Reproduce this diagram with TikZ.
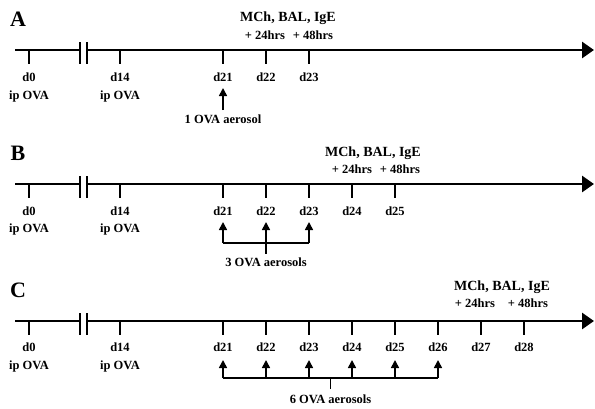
\documentclass[tikz,border=0pt]{standalone}
\usepackage{fontspec}
\setmainfont{Liberation Serif}
\usepackage{tikz}
\usetikzlibrary{arrows.meta, positioning}

\tikzset{
  axisline/.style={line width=2.8pt},
  daytick/.style={line width=2.8pt},
  brkbar/.style={line width=2.8pt},
  timeline/.style={axisline, -{Triangle[length=12pt,width=16pt]}},
  daylabel/.style={inner sep=0pt, font=\bfseries\fontsize{12.5}{14}\selectfont},
  readout/.style={inner sep=0pt, font=\bfseries\fontsize{14}{16}\selectfont},
  panel/.style={inner sep=0pt, font=\bfseries\fontsize{22}{24}\selectfont},
  aerosol/.style={line width=1.6pt, -{Triangle[length=8pt,width=8pt]}},
  bracket/.style={line width=1.6pt}
}

\begin{document}
\begin{tikzpicture}[x=1pt, y=-1pt]
    \useasboundingbox (0,0) rectangle (595,408);

    % panel A
    \node[panel] (labA) at (18,19) {A};
    \coordinate (A-start) at (15,50);
    \coordinate (A-brk1) at (80,50);
    \coordinate (A-brk2) at (87,50);
    \coordinate (A-end) at (594,50);
    \draw[axisline] (A-start) -- (A-brk1);
    \draw[timeline] (A-brk2) -- (A-end);
    \draw[brkbar] (A-brk1) ++(0,-8) -- ++(0,22);
    \draw[brkbar] (A-brk2) ++(0,-8) -- ++(0,22);
    \foreach \d/\x in {0/29, 14/120, 21/223, 22/266, 23/309} {
        \coordinate (A\d) at (\x,50);
        \draw[daytick] (A\d) -- ++(0,14);
        \node[daylabel] (A\d-lab) at (\x,77) {d\d};
    }
    \node[daylabel] (A0-ip) at (29,96) {ip OVA};
    \node[daylabel] (A14-ip) at (120,96) {ip OVA};
    \node[readout] (A-read) at (288,18) {MCh, BAL, IgE};
    \node[daylabel] (A-24) at (265,35) {+ 24hrs};
    \node[daylabel] (A-48) at (313,35) {+ 48hrs};
    \coordinate (A-aer) at (223,110);
    \coordinate (A-tip) at (223,88);
    \draw[aerosol] (A-aer) -- (A-tip);
    \node[daylabel] (A-ova) at (223,119) {1 OVA aerosol};

    % panel B
    \node[panel] (labB) at (18,153) {B};
    \coordinate (B-start) at (15,184);
    \coordinate (B-brk1) at (80,184);
    \coordinate (B-brk2) at (87,184);
    \coordinate (B-end) at (594,184);
    \draw[axisline] (B-start) -- (B-brk1);
    \draw[timeline] (B-brk2) -- (B-end);
    \draw[brkbar] (B-brk1) ++(0,-8) -- ++(0,22);
    \draw[brkbar] (B-brk2) ++(0,-8) -- ++(0,22);
    \foreach \d/\x in {0/29, 14/120, 21/223, 22/266, 23/309, 24/352, 25/395} {
        \coordinate (B\d) at (\x,184);
        \draw[daytick] (B\d) -- ++(0,14);
        \node[daylabel] (B\d-lab) at (\x,211) {d\d};
    }
    \node[daylabel] (B0-ip) at (29,229) {ip OVA};
    \node[daylabel] (B14-ip) at (120,229) {ip OVA};
    \node[readout] (B-read) at (373,153) {MCh, BAL, IgE};
    \node[daylabel] (B-24) at (352,169) {+ 24hrs};
    \node[daylabel] (B-48) at (400,169) {+ 48hrs};
    \coordinate (B-left) at (223,243);
    \coordinate (B-right) at (309,243);
    \coordinate (B-mid) at (266,243);
    \coordinate (B-stem) at (266,254);
    \draw[bracket] (B-left) -- (B-right);
    \draw[bracket] (B-mid) -- (B-stem);
    \foreach \x in {223, 266, 309} {
        \draw[aerosol] (\x,243) -- (\x,222);
    }
    \node[daylabel] (B-ova) at (266,262) {3 OVA aerosols};

    % panel C
    \node[panel] (labC) at (18,290) {C};
    \coordinate (C-start) at (15,321);
    \coordinate (C-brk1) at (80,321);
    \coordinate (C-brk2) at (87,321);
    \coordinate (C-end) at (594,321);
    \draw[axisline] (C-start) -- (C-brk1);
    \draw[timeline] (C-brk2) -- (C-end);
    \draw[brkbar] (C-brk1) ++(0,-8) -- ++(0,22);
    \draw[brkbar] (C-brk2) ++(0,-8) -- ++(0,22);
    \foreach \d/\x in {0/29, 14/120, 21/223, 22/266, 23/309, 24/352, 25/395, 26/438, 27/481, 28/524} {
        \coordinate (C\d) at (\x,321);
        \draw[daytick] (C\d) -- ++(0,14);
        \node[daylabel] (C\d-lab) at (\x,347) {d\d};
    }
    \node[daylabel] (C0-ip) at (29,366) {ip OVA};
    \node[daylabel] (C14-ip) at (120,366) {ip OVA};
    \node[readout] (C-read) at (502,287) {MCh, BAL, IgE};
    \node[daylabel] (C-24) at (475,303) {+ 24hrs};
    \node[daylabel] (C-48) at (528,303) {+ 48hrs};
    \coordinate (C-left) at (223,378);
    \coordinate (C-right) at (438,378);
    \coordinate (C-mid) at (330.5,378);
    \coordinate (C-stem) at (330.5,389);
    \draw[bracket] (C-left) -- (C-right);
    \draw[bracket] (C-mid) -- (C-stem);
    \foreach \x in {223, 266, 309, 352, 395, 438} {
        \draw[aerosol] (\x,378) -- (\x,360);
    }
    \node[daylabel] (C-ova) at (330.5,399) {6 OVA aerosols};
\end{tikzpicture}
\end{document}
